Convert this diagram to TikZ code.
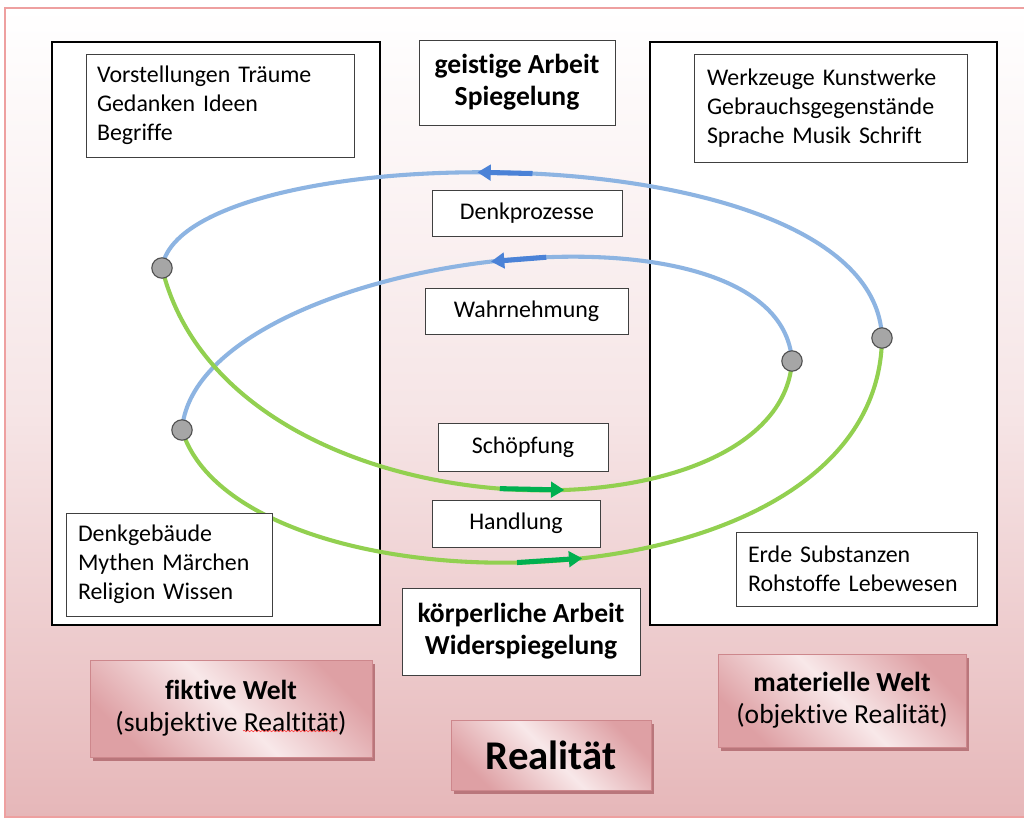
\documentclass[tikz,border=0pt]{standalone}
\usepackage{fontspec}
\setmainfont{Carlito}[Ligatures={NoCommon}]
\usetikzlibrary{arrows.meta,decorations.pathmorphing}
\definecolor{framecol}{RGB}{238,160,160}
\definecolor{bgpink}{RGB}{230,183,185}
\definecolor{bgmid}{RGB}{246,229,230}
\definecolor{bline}{RGB}{141,180,226}
\definecolor{barr}{RGB}{75,130,215}
\definecolor{gline}{RGB}{146,208,80}
\definecolor{garr}{RGB}{0,176,80}
\definecolor{pkd}{RGB}{222,160,164}
\definecolor{pkl}{RGB}{248,232,233}
\definecolor{pkb}{RGB}{205,135,140}
\definecolor{pksh}{RGB}{185,118,123}
\definecolor{dotfill}{RGB}{166,166,166}
\definecolor{dotdraw}{RGB}{80,80,80}
\def\u{0.025cm}
\tikzset{
  bigbox/.style={draw=black, line width=1.1pt, fill=white, inner sep=0pt},
  txtbox/.style={draw=black!75, line width=0.7pt, fill=white, inner sep=0pt,
    font=\fontsize{17}{20.6}\selectfont},
  headbox/.style={draw=black!75, line width=0.7pt, fill=white, inner sep=0pt, align=center,
    font=\fontsize{19.6}{22.8}\selectfont\bfseries},
  pinkbox/.style={draw=pkb, line width=0.6pt, top color=pkd, bottom color=pkd,
    middle color=pkl, shading angle=-45, inner sep=0pt, align=center,
    font=\fontsize{19.6}{22.8}\selectfont},
  pinkshadow/.style={fill=pksh, inner sep=0pt},
  dotnode/.style={circle, fill=dotfill, draw=dotdraw, line width=0.8pt, minimum size=14.5pt, inner sep=0pt},
  bluel/.style={draw=bline, line width=2.9pt},
  greenl/.style={draw=gline, line width=2.9pt},
  barrow/.style={draw=barr, line width=3.6pt, -{Triangle[length=9.5pt,width=11pt]}},
  garrow/.style={draw=garr, line width=3.6pt, -{Triangle[length=9.5pt,width=11pt]}},
}
\begin{document}
\begin{tikzpicture}[x=0.025cm,y=-0.025cm]
\useasboundingbox (0,0) rectangle (1024,819);
\fill[white] (0,0) rectangle (1024,819);
% background frame
\shade[top color=white, bottom color=bgpink, middle color=bgmid] (5,8) rectangle (1030,817);
\draw[framecol, line width=0.9pt] (1030,8) -- (5,8) -- (5,817) -- (1030,817);

% big boxes
\node[bigbox, minimum width=328*\u, minimum height=583*\u] (lw) at (216,333.5) {};
\node[bigbox, minimum width=347*\u, minimum height=583*\u] (rw) at (823.5,333.5) {};

% dot positions
\coordinate (c1) at (162,268);
\coordinate (c2) at (882,338);
\coordinate (c3) at (182,430);
\coordinate (c4) at (792,361);

% curves
\draw[bluel] (c1) .. controls (180,135) and (875,125) .. coordinate[pos=0.454] (a1e) coordinate[pos=0.506] (a1s) (c2);
\draw[bluel] (c3) .. controls (195,255) and (780,180) .. coordinate[pos=0.504] (a2e) coordinate[pos=0.566] (a2s) (c4);
\draw[greenl] (c2) .. controls (878,620) and (240,620) .. coordinate[pos=0.47] (a4e) coordinate[pos=0.535] (a4s) (c3);
\draw[greenl] (c4) .. controls (780,548) and (230,545) .. coordinate[pos=0.424] (a3e) coordinate[pos=0.498] (a3s) (c1);

% arrows
\draw[barrow] (a1s) -- (a1e);
\draw[barrow] (a2s) -- (a2e);
\draw[garrow] (a3s) -- (a3e);
\draw[garrow] (a4s) -- (a4e);

% dots
\node[dotnode] (d1) at (c1) {};
\node[dotnode] (d2) at (c2) {};
\node[dotnode] (d3) at (c3) {};
\node[dotnode] (d4) at (c4) {};

% text boxes in worlds
\node[txtbox, align=left, inner xsep=11*\u, text width=246*\u, minimum height=103*\u] (tl) at (220,105.5)
  {Vorstellungen Träume\\Gedanken Ideen\\Begriffe};
\node[txtbox, align=left, inner xsep=13*\u, text width=247*\u, minimum height=108*\u] (tr) at (830.5,108)
  {Werkzeuge Kunstwerke\\Gebrauchsgegenstände\\Sprache Musik Schrift};
\node[txtbox, align=left, inner xsep=12*\u, text width=182*\u, minimum height=103*\u] (bl) at (169,564.5)
  {Denkgebäude\\Mythen Märchen\\Religion Wissen};
\node[txtbox, align=left, inner xsep=12*\u, text width=217*\u, minimum height=74*\u] (br) at (856.5,569)
  {Erde Substanzen\\Rohstoffe Lebewesen};

% center boxes
\node[headbox, minimum width=196*\u, minimum height=85*\u] (ga) at (517,82.5) {geistige Arbeit\\Spiegelung};
\node[txtbox, minimum width=190*\u, minimum height=46*\u] (dp) at (527,213) {Denkprozesse};
\node[txtbox, minimum width=203*\u, minimum height=46*\u] (wn) at (526.5,311) {Wahrnehmung};
\node[txtbox, minimum width=170*\u, minimum height=48*\u] (sp) at (523,447) {Schöpfung};
\node[txtbox, minimum width=168*\u, minimum height=47*\u] (hd) at (516,523.5) {Handlung};
\node[headbox, minimum width=238*\u, minimum height=87*\u] (ka) at (521,631.5) {körperliche Arbeit\\Widerspiegelung};

% pink boxes
\node[pinkshadow, minimum width=282*\u, minimum height=97*\u] (fksh) at (234,712.5) {};
\node[pinkbox, minimum width=282*\u, minimum height=97*\u] (fk) at (231,708.5) {\textbf{fiktive Welt}\\(subjektive Realtität)};
\node[pinkshadow, minimum width=248*\u, minimum height=93*\u] (mwsh) at (845,704.5) {};
\node[pinkbox, minimum width=248*\u, minimum height=93*\u] (mw) at (842,700.5) {\textbf{materielle Welt}\\(objektive Realität)};
\node[pinkshadow, minimum width=200*\u, minimum height=70*\u] (resh) at (554,759) {};
\node[pinkbox, minimum width=200*\u, minimum height=70*\u, font=\fontsize{29}{32}\selectfont\bfseries] (re) at (551,755) {Realität};

% spell-check underline
\draw[red!75, line width=0.45pt, decorate, decoration={snake, amplitude=0.5pt, segment length=2.6pt}] (243,731) -- (337,731);
\end{tikzpicture}
\end{document}
